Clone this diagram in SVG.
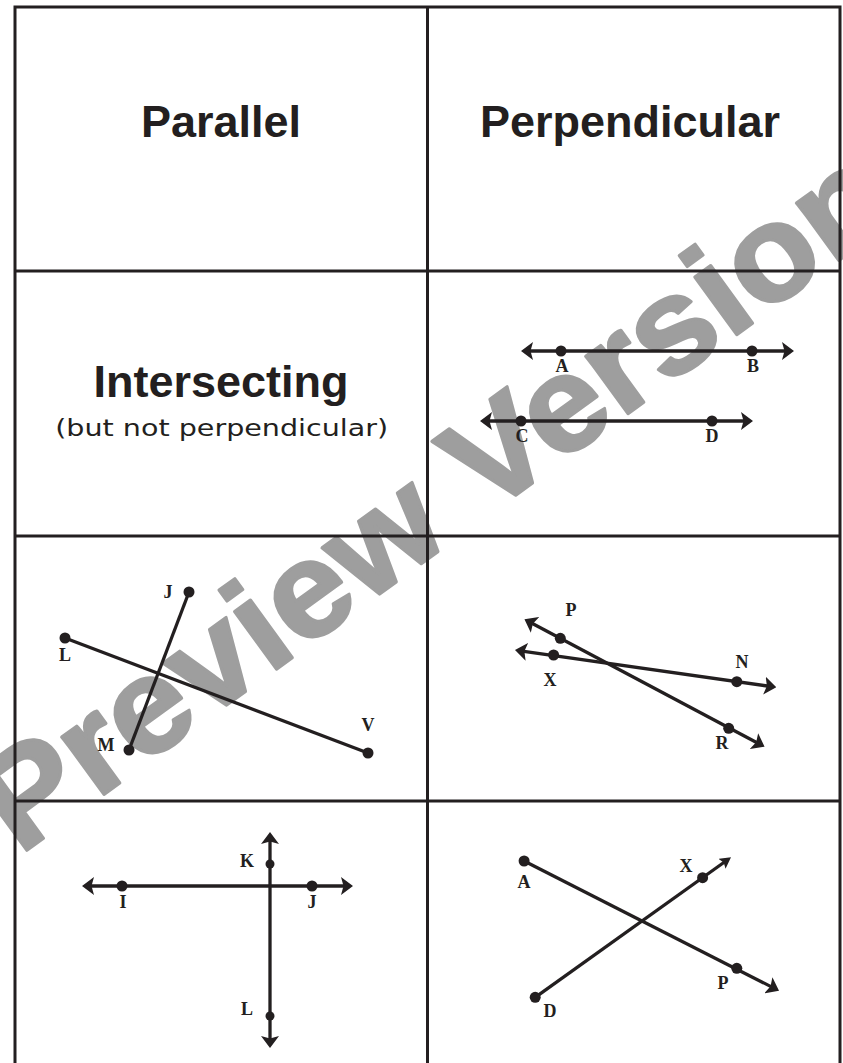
<svg xmlns="http://www.w3.org/2000/svg" width="843" height="1063" viewBox="0 0 843 1063">
<style>
.grid{fill:none;stroke:#231f20;stroke-width:3}
.title{font-family:"Liberation Sans",Arial,sans-serif;font-weight:bold;font-size:45px;fill:#231f20;text-anchor:middle}
.sub{font-family:"DejaVu Sans",sans-serif;font-size:23px;fill:#231f20;text-anchor:middle}
.ln{stroke:#231f20;stroke-width:3.3;fill:none}
.arr{marker-start:url(#ah);marker-end:url(#ah)}
.dot{fill:#231f20}
.lbl{font-family:"Liberation Serif","Times New Roman",serif;font-weight:bold;font-size:18px;fill:#231f20;text-anchor:middle}
.wm{font-family:"Liberation Sans",Arial,sans-serif;font-weight:bold;font-size:135px;fill:#9e9e9e;stroke:#9e9e9e;stroke-width:3;stroke-linejoin:round}
</style>
<defs>
<marker id="ah" viewBox="0 0 12 18" refX="3" refY="9" markerWidth="12" markerHeight="18" markerUnits="userSpaceOnUse" orient="auto-start-reverse">
<path d="M0,0 L12,9 L0,18 L2.5,9 z" fill="#231f20"/>
</marker>
<marker id="ahs" viewBox="0 0 11 12" refX="3" refY="6" markerWidth="11" markerHeight="12" markerUnits="userSpaceOnUse" orient="auto">
<path d="M0,0 L11,6 L0,12 L2,6 z" fill="#231f20"/>
</marker>
</defs>
<rect width="843" height="1063" fill="#ffffff"/>
<g id="watermark">
<text class="wm" transform="translate(19.2,856) rotate(-36)" textLength="1090" lengthAdjust="spacingAndGlyphs">Preview Version</text>
</g>
<g id="grid">
<rect class="grid" x="15" y="7" width="825" height="1059"/>
<line class="grid" x1="427.5" y1="7" x2="427.5" y2="1066"/>
<line class="grid" x1="15" y1="271" x2="840" y2="271"/>
<line class="grid" x1="15" y1="536" x2="840" y2="536"/>
<line class="grid" x1="15" y1="801" x2="840" y2="801"/>
</g>
<g id="cell-parallel">
<text class="title" x="221" y="137">Parallel</text>
</g>
<g id="cell-perpendicular">
<text class="title" x="630" y="137">Perpendicular</text>
</g>
<g id="cell-intersecting">
<text class="title" x="221" y="397">Intersecting</text>
<text class="sub" x="221.7" y="436" textLength="333" lengthAdjust="spacingAndGlyphs">(but not perpendicular)</text>
</g>
<g id="fig-parallel-lines">
<g class="connectors">
<line class="ln arr" x1="530" y1="351" x2="785" y2="351"/>
<line class="ln arr" x1="489" y1="421" x2="744" y2="421"/>
</g>
<circle class="dot" cx="561" cy="351" r="5.5"/>
<circle class="dot" cx="752" cy="351" r="5.5"/>
<circle class="dot" cx="521" cy="421" r="5.5"/>
<circle class="dot" cx="712" cy="421" r="5.5"/>
<text class="lbl" x="562" y="372">A</text>
<text class="lbl" x="753" y="372">B</text>
<text class="lbl" x="522" y="442">C</text>
<text class="lbl" x="712" y="442">D</text>
</g>
<g id="fig-segments">
<g class="connectors">
<line class="ln" x1="65" y1="638" x2="368" y2="753"/>
<line class="ln" x1="189" y1="592" x2="129" y2="750"/>
</g>
<circle class="dot" cx="65" cy="638" r="5.5"/>
<circle class="dot" cx="368" cy="753" r="5.5"/>
<circle class="dot" cx="189" cy="592" r="5.5"/>
<circle class="dot" cx="129" cy="750" r="5.5"/>
<text class="lbl" x="168" y="598">J</text>
<text class="lbl" x="65" y="661">L</text>
<text class="lbl" x="106" y="751">M</text>
<text class="lbl" x="368" y="731">V</text>
</g>
<g id="fig-crossing-lines">
<g class="connectors">
<line class="ln arr" x1="532.4" y1="623.5" x2="756.6" y2="742.5"/>
<line class="ln arr" x1="523.9" y1="651.3" x2="767.4" y2="686"/>
</g>
<circle class="dot" cx="560.3" cy="638.3" r="5.5"/>
<circle class="dot" cx="728.7" cy="728.3" r="5.5"/>
<circle class="dot" cx="553.6" cy="655" r="5.5"/>
<circle class="dot" cx="736.8" cy="681.7" r="5.5"/>
<text class="lbl" x="571" y="616">P</text>
<text class="lbl" x="742" y="668">N</text>
<text class="lbl" x="550" y="686">X</text>
<text class="lbl" x="722" y="749">R</text>
</g>
<g id="fig-perpendicular-lines">
<g class="connectors">
<line class="ln arr" x1="91" y1="886" x2="344" y2="886"/>
<line class="ln arr" x1="270" y1="841" x2="270" y2="1039"/>
</g>
<circle class="dot" cx="122" cy="886" r="5.5"/>
<circle class="dot" cx="312" cy="886" r="5.5"/>
<circle class="dot" cx="270" cy="864" r="4.5"/>
<circle class="dot" cx="270" cy="1016" r="4.5"/>
<text class="lbl" x="247" y="867">K</text>
<text class="lbl" x="123" y="908">I</text>
<text class="lbl" x="312" y="908">J</text>
<text class="lbl" x="247" y="1015">L</text>
</g>
<g id="fig-rays">
<g class="connectors">
<line class="ln" x1="524.1" y1="861" x2="771" y2="986.6" marker-end="url(#ah)"/>
<line class="ln" x1="535.2" y1="997.3" x2="724.5" y2="862" marker-end="url(#ahs)"/>
</g>
<circle class="dot" cx="524.1" cy="861" r="5.5"/>
<circle class="dot" cx="736.8" cy="968.3" r="5.5"/>
<circle class="dot" cx="535.2" cy="997.3" r="5.5"/>
<circle class="dot" cx="702.6" cy="877.7" r="5.5"/>
<text class="lbl" x="524" y="888">A</text>
<text class="lbl" x="686" y="872">X</text>
<text class="lbl" x="723" y="989">P</text>
<text class="lbl" x="550" y="1017">D</text>
</g>
</svg>
